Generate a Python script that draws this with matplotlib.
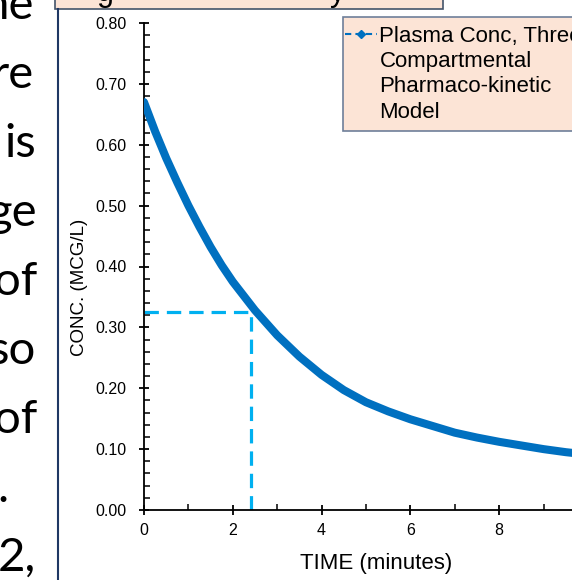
import matplotlib.pyplot as plt
from matplotlib.lines import Line2D
from matplotlib.patches import Rectangle
from matplotlib.ticker import MultipleLocator

# plasma concentration curve
time = [0, 0.25, 0.5, 0.75, 1, 1.25, 1.5, 1.75, 2, 2.5, 3, 3.5, 4, 4.5, 5,
        5.5, 6, 6.5, 7, 7.5, 8, 8.5, 9, 9.5, 10]
conc = [0.670, 0.622, 0.578, 0.538, 0.500, 0.465, 0.432, 0.402, 0.375, 0.328,
        0.287, 0.252, 0.222, 0.197, 0.177, 0.162, 0.149, 0.138, 0.127, 0.119,
        0.112, 0.106, 0.100, 0.095, 0.091]

# dashed guide to the half-life point
half_t = 2.4
half_c = 0.325

legend_lines = ['Plasma Conc, Three', 'Compartmental', 'Pharmaco-kinetic', 'Model']

# slide text fragments left of the chart (line endings, clipped)
frag_text = ['he', 're', 'is', 'ge', 'of', 'so', 'of', '.', '2,']
frag_right = [34, 34, 36, 37, 37, 36, 37, 8, 36]
frag_base = [19, 88, 157, 226, 295, 364, 433, 502, 571]

W, H = 572, 580
fig = plt.figure(figsize=(W / 100, H / 100), dpi=100)
fig.patch.set_facecolor('white')

ax = fig.add_axes([144 / W, 1 - 510 / H, 428 / W, 487 / H])
ax.plot(time, conc, color='#0070C0', lw=5.8, solid_capstyle='round', zorder=3)
ax.plot([0, half_t], [half_c, half_c], color='#00B0F0', lw=2.3, dashes=(4.5, 2.5), zorder=2)
ax.plot([half_t, half_t], [0, half_c], color='#00B0F0', lw=2.3, dashes=(4.5, 2.5), zorder=2)

ax.set_xlim(0, 428 / 44.4)
ax.set_ylim(0, 0.80)
ax.xaxis.set_major_locator(MultipleLocator(2))
ax.xaxis.set_minor_locator(MultipleLocator(1))
ax.yaxis.set_major_locator(MultipleLocator(0.1))
ax.yaxis.set_minor_locator(MultipleLocator(0.02))
ax.yaxis.set_major_formatter(plt.FuncFormatter(lambda v, p: '%.2f' % v))
for s in ['top', 'right']:
    ax.spines[s].set_visible(False)
for s in ['left', 'bottom']:
    ax.spines[s].set_linewidth(1.3)
ax.tick_params(which='major', direction='inout', length=7, width=1.3, labelsize=11.5)
ax.tick_params(axis='y', which='major', pad=9)
ax.tick_params(axis='x', which='major', pad=6)
ax.tick_params(which='minor', direction='in', length=4, width=1.1)
for lab in ax.get_xticklabels() + ax.get_yticklabels():
    lab.set_fontfamily('Liberation Sans')

fig.text(376 / W, 1 - 563 / H, 'TIME (minutes)', ha='center', va='center',
         fontsize=16, family='Liberation Sans')
fig.text(80 / W, 1 - 287 / H, 'CONC. (MCG/L)', ha='center', va='center',
         rotation=90, fontsize=13.5, family='Liberation Sans')

# legend box drawn separately (wider vertical than horizontal padding)
fig.patches.append(Rectangle((343 / W, 1 - 131 / H), 240 / W, 114 / H,
                             transform=fig.transFigure, facecolor='#FCE4D6',
                             edgecolor='#6E7F99', lw=1.2, zorder=4))
handle = Line2D([], [], color='#0070C0', lw=1.5, dashes=(3, 2),
                marker='D', markersize=4)
blank = Line2D([], [], color='none')
leg = fig.legend([handle, blank, blank, blank], legend_lines,
                 loc='upper left', bbox_to_anchor=(345 / W, 1 - 26 / H),
                 frameon=False, prop={'family': 'Liberation Sans', 'size': 16},
                 handlelength=1.45, handletextpad=0.1, borderpad=0,
                 borderaxespad=0, labelspacing=0.19)
leg.set_zorder(5)

# slide decorations: title box at top and left border line
fig.patches.append(Rectangle((55 / W, 1 - 9 / H), 388 / W, 20 / H,
                             transform=fig.transFigure, facecolor='#FCE4D6',
                             edgecolor='#44546A', lw=1.2))
fig.text(97 / W, 1 - 1 / H, 'g', fontsize=22, family='Liberation Sans',
         va='baseline', ha='left')
fig.text(330 / W, 1 - 1 / H, 'y', fontsize=22, family='Liberation Sans',
         va='baseline', ha='left')
fig.add_artist(Line2D([58 / W, 58 / W], [0, 1 - 9 / H], transform=fig.transFigure,
                      color='#1F3864', lw=1.5))

for txt, xr, yb in zip(frag_text, frag_right, frag_base):
    fig.text(xr / W, 1 - yb / H, txt, ha='right', va='baseline',
             fontsize=34, family='Lato')

fig.savefig('out.png', dpi=100)
